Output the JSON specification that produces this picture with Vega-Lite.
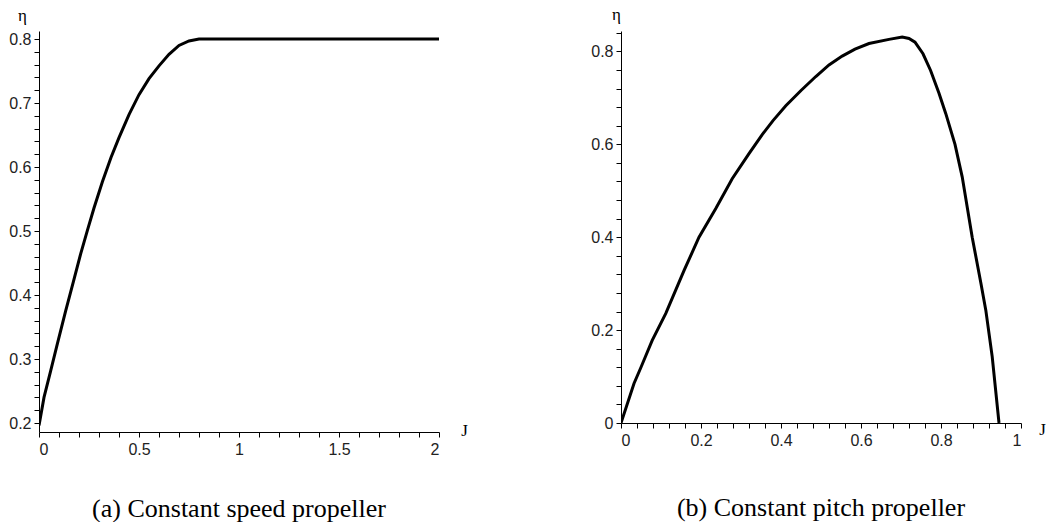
{
  "$schema": "https://vega.github.io/schema/vega-lite/v6.json",
  "background": "white",
  "padding": {"left": 8, "top": 5, "right": 0, "bottom": 0},
  "datasets": {
    "speed": [
      {"J": 0, "eta": 0.196}, {"J": 0.025, "eta": 0.24}, {"J": 0.058, "eta": 0.281}, {"J": 0.092, "eta": 0.324},
      {"J": 0.133, "eta": 0.375}, {"J": 0.172, "eta": 0.421}, {"J": 0.208, "eta": 0.464}, {"J": 0.242, "eta": 0.501},
      {"J": 0.275, "eta": 0.536}, {"J": 0.317, "eta": 0.577}, {"J": 0.36, "eta": 0.615}, {"J": 0.4, "eta": 0.646},
      {"J": 0.45, "eta": 0.682}, {"J": 0.5, "eta": 0.713}, {"J": 0.55, "eta": 0.738}, {"J": 0.6, "eta": 0.758},
      {"J": 0.65, "eta": 0.776}, {"J": 0.7, "eta": 0.79}, {"J": 0.75, "eta": 0.797}, {"J": 0.8, "eta": 0.8},
      {"J": 0.9, "eta": 0.8}, {"J": 2.0, "eta": 0.8}
    ],
    "pitch": [
      {"J": 0, "eta": 0}, {"J": 0.0325, "eta": 0.085}, {"J": 0.05, "eta": 0.12}, {"J": 0.078, "eta": 0.178},
      {"J": 0.112, "eta": 0.236}, {"J": 0.158, "eta": 0.329}, {"J": 0.195, "eta": 0.4}, {"J": 0.237, "eta": 0.462},
      {"J": 0.278, "eta": 0.526}, {"J": 0.32, "eta": 0.58}, {"J": 0.353, "eta": 0.621}, {"J": 0.38, "eta": 0.651},
      {"J": 0.412, "eta": 0.683}, {"J": 0.45, "eta": 0.716}, {"J": 0.487, "eta": 0.746}, {"J": 0.52, "eta": 0.771},
      {"J": 0.553, "eta": 0.79}, {"J": 0.585, "eta": 0.805}, {"J": 0.62, "eta": 0.817}, {"J": 0.67, "eta": 0.826},
      {"J": 0.703, "eta": 0.831}, {"J": 0.72, "eta": 0.828}, {"J": 0.735, "eta": 0.82}, {"J": 0.755, "eta": 0.795},
      {"J": 0.774, "eta": 0.759}, {"J": 0.795, "eta": 0.71}, {"J": 0.812, "eta": 0.666}, {"J": 0.835, "eta": 0.6},
      {"J": 0.853, "eta": 0.53}, {"J": 0.878, "eta": 0.4}, {"J": 0.9, "eta": 0.3}, {"J": 0.912, "eta": 0.243},
      {"J": 0.928, "eta": 0.143}, {"J": 0.945, "eta": 0}
    ]
  },
  "spacing": 182,
  "bounds": "flush",
  "hconcat": [
    {
      "width": 400,
      "height": 401,
      "title": {"text": "(a) Constant speed propeller", "orient": "bottom", "anchor": "middle", "offset": 39},
      "data": {"name": "speed"},
      "mark": {"type": "line", "color": "black", "strokeWidth": 3, "clip": true},
      "encoding": {
        "x": {
          "field": "J", "type": "quantitative",
          "scale": {"domain": [0, 2], "nice": false},
          "axis": {
            "title": "J", "titleX": 425, "titleY": -2, "titleAlign": "center", "titleBaseline": "middle",
            "values": [0, 0.1, 0.2, 0.3, 0.4, 0.5, 0.6, 0.7, 0.8, 0.9, 1, 1.1, 1.2, 1.3, 1.4, 1.5, 1.6, 1.7, 1.8, 1.9, 2],
            "format": "~g",
            "labelExpr": "round(datum.value*10) % 5 == 0 ? datum.label : ''",
            "labelPadding": 4
          }
        },
        "y": {
          "field": "eta", "type": "quantitative",
          "scale": {"domain": [0.186, 0.8125], "nice": false, "zero": false},
          "axis": {
            "title": "η", "titleAngle": 0, "titleX": -17, "titleY": -16, "titleAlign": "center", "titleBaseline": "middle",
            "values": [0.2, 0.22, 0.24, 0.26, 0.28, 0.3, 0.32, 0.34, 0.36, 0.38, 0.4, 0.42, 0.44, 0.46, 0.48, 0.5, 0.52, 0.54, 0.56, 0.58, 0.6, 0.62, 0.64, 0.66, 0.68, 0.7, 0.72, 0.74, 0.76, 0.78, 0.8],
            "format": ".1f",
            "labelExpr": "round(datum.value*100) % 10 == 0 ? datum.label : ''",
            "labelPadding": 3
          }
        }
      }
    },
    {
      "width": 400,
      "height": 392,
      "title": {"text": "(b) Constant pitch propeller", "orient": "bottom", "anchor": "middle", "offset": 47},
      "data": {"name": "pitch"},
      "mark": {"type": "line", "color": "black", "strokeWidth": 3, "clip": true},
      "encoding": {
        "x": {
          "field": "J", "type": "quantitative",
          "scale": {"domain": [0, 1], "nice": false},
          "axis": {
            "title": "J", "titleX": 421, "titleY": 6, "titleAlign": "center", "titleBaseline": "middle",
            "values": [0, 0.04, 0.08, 0.12, 0.16, 0.2, 0.24, 0.28, 0.32, 0.36, 0.4, 0.44, 0.48, 0.52, 0.56, 0.6, 0.64, 0.68, 0.72, 0.76, 0.8, 0.84, 0.88, 0.92, 0.96, 1],
            "format": "~g",
            "labelExpr": "round(datum.value*100) % 20 == 0 ? datum.label : ''",
            "labelPadding": 4
          }
        },
        "y": {
          "field": "eta", "type": "quantitative",
          "scale": {"domain": [0, 0.844], "nice": false},
          "axis": {
            "title": "η", "titleAngle": 0, "titleX": -5, "titleY": -17, "titleAlign": "center", "titleBaseline": "middle",
            "values": [0, 0.04, 0.08, 0.12, 0.16, 0.2, 0.24, 0.28, 0.32, 0.36, 0.4, 0.44, 0.48, 0.52, 0.56, 0.6, 0.64, 0.68, 0.72, 0.76, 0.8, 0.84],
            "format": "~g",
            "labelExpr": "round(datum.value*100) % 20 == 0 ? datum.label : ''",
            "labelPadding": 3
          }
        }
      }
    }
  ],
  "config": {
    "view": {"stroke": null},
    "axis": {
      "grid": false, "domainColor": "black", "tickColor": "black", "tickSize": 5,
      "labelFont": "Liberation Sans", "labelFontSize": 16, "labelColor": "#222",
      "titleFont": "Liberation Serif", "titleFontSize": 17, "titleFontWeight": "normal", "titleColor": "black"
    },
    "title": {"font": "Liberation Serif", "fontSize": 26, "fontWeight": "normal", "color": "black", "baseline": "top"}
  }
}
